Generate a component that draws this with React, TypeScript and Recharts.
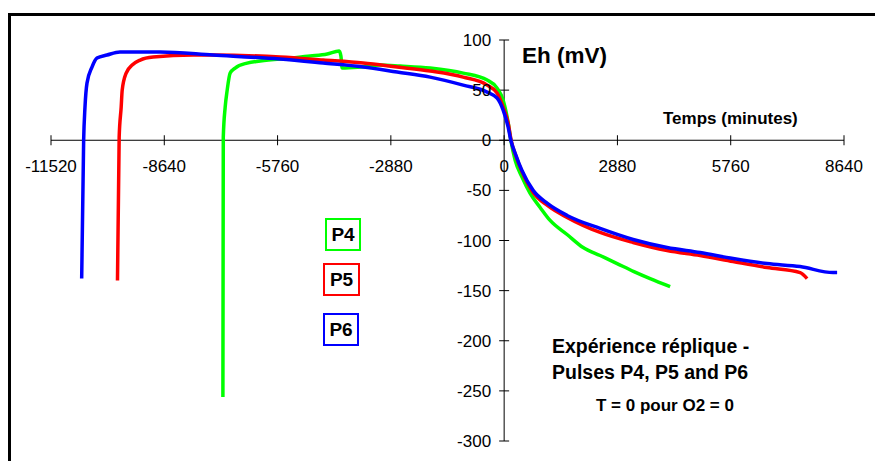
import React from 'react';
import { LineChart, Line, XAxis, YAxis, ReferenceLine, ReferenceDot } from 'recharts';

const FONT = '"Liberation Sans", Arial, Helvetica, sans-serif';

// axis ticks
const xTicks = [-11520, -8640, -5760, -2880, 0, 2880, 5760, 8640];
const yTicks = [100, 50, 0, -50, -100, -150, -200, -250, -300];

// P4 (green)
const p4Time = [-7150, -7140, -7092, -7041, -6965, -6838, -6533, -6202, -5440, -4931, -4499, -4194, -4150, -4118, -3660, -3152, -2644, -1881, -1042, -432, -178, -25, 100, 170, 280, 457, 661, 915, 1169, 1600, 2008, 2440, 2872, 3300, 3711, 4220];
const p4Eh = [-256, 3, 33, 50, 67, 72, 77, 79, 82, 84, 86, 89, 84, 72, 73, 75, 74, 72, 67, 60, 52, 40, 18, 0, -20, -37, -53, -67, -80, -94, -107, -115, -123, -131, -138, -146];

// P5 (red)
const p5Time = [-9830, -9787, -9736, -9710, -9609, -9456, -9253, -8923, -7906, -7397, -5694, -4601, -3584, -2720, -1881, -1042, -432, -178, -25, 102, 178, 300, 450, 737, 1100, 1601, 2440, 3279, 4143, 4982, 5821, 6685, 7524, 7702];
const p5Eh = [-140, 3, 33, 50, 67, 75, 80, 83, 85, 85, 83, 80, 77, 73, 69, 63, 55, 47, 33, 17, 0, -16, -31, -52, -65, -77, -92, -102, -110, -115, -121, -127, -132, -138];

// P6 (blue)
const p6Time = [-10740, -10690, -10656, -10605, -10478, -10351, -10096, -9766, -8749, -7402, -5700, -4601, -3584, -2720, -1881, -1042, -432, -178, -25, 102, 170, 300, 450, 737, 1100, 1601, 2440, 3279, 4143, 4982, 5821, 6685, 7524, 8363, 8465];
const p6Eh = [-138, 0, 33, 57, 73, 82, 85, 88, 88, 85, 81, 77, 73, 68, 63, 55, 48, 42, 30, 13, 0, -15, -30, -50, -63, -75, -88, -99, -107, -112, -118, -123, -126, -132, -132];

const toPoints = (times: number[], values: number[]) =>
  times.map((t, i) => ({ t, eh: values[i] }));

const series = [
  { name: 'P4', color: '#00FF00', data: toPoints(p4Time, p4Eh) },
  { name: 'P5', color: '#FF0000', data: toPoints(p5Time, p5Eh) },
  { name: 'P6', color: '#0000FF', data: toPoints(p6Time, p6Eh) },
];

const legendBoxes = [
  { left: 325, top: 218, width: 36 },
  { left: 323, top: 263, width: 37 },
  { left: 323, top: 313, width: 36 },
];

const xTickHalf = 5; // mV, ~5px
const yTickHalf = 127; // minutes, ~5px

const text = (extra: React.CSSProperties): React.CSSProperties => ({
  position: 'absolute',
  fontFamily: FONT,
  fontWeight: 'bold',
  color: '#000',
  lineHeight: 1,
  whiteSpace: 'nowrap',
  ...extra,
});

export default function App() {
  return (
    <div
      style={{
        position: 'absolute',
        left: 0,
        top: 0,
        width: 875,
        height: 461,
        overflow: 'hidden',
        background: '#fff',
        fontFamily: FONT,
      }}
    >
      <div
        style={{
          position: 'absolute',
          left: 8,
          top: 13,
          width: 900,
          height: 500,
          border: '3px solid #000',
        }}
      />
      <div style={{ position: 'absolute', left: 0, top: 0 }}>
        <LineChart
          width={875}
          height={461}
          margin={{ top: 40, right: 31, bottom: 20, left: 51 }}
          style={{ fontFamily: FONT }}
        >
          <XAxis type="number" dataKey="t" domain={[-11520, 8640]} hide allowDataOverflow />
          <YAxis type="number" dataKey="eh" domain={[-300, 100]} hide allowDataOverflow />
          <ReferenceLine y={0} stroke="#000" strokeWidth={1} />
          <ReferenceLine x={0} stroke="#000" strokeWidth={1} />
          {xTicks.map((t) => (
            <ReferenceLine
              key={`xt${t}`}
              segment={[{ x: t, y: -xTickHalf }, { x: t, y: xTickHalf }]}
              stroke="#000"
              strokeWidth={1}
            />
          ))}
          {yTicks.map((v) => (
            <ReferenceLine
              key={`yt${v}`}
              segment={[{ x: -yTickHalf, y: v }, { x: yTickHalf, y: v }]}
              stroke="#000"
              strokeWidth={1}
            />
          ))}
          {xTicks.map((t) => (
            <ReferenceDot
              key={`xl${t}`}
              x={t}
              y={0}
              r={0}
              fill="none"
              stroke="none"
              label={{ value: String(t), position: 'bottom', offset: 20, fontSize: 17, fill: '#000', fontFamily: FONT }}
            />
          ))}
          {yTicks.map((v) => (
            <ReferenceDot
              key={`yl${v}`}
              x={0}
              y={v}
              r={0}
              fill="none"
              stroke="none"
              label={{ value: String(v), position: 'left', offset: 13, fontSize: 17, fill: '#000', fontFamily: FONT }}
            />
          ))}
          {series.map((s) => (
            <Line
              key={s.name}
              data={s.data}
              dataKey="eh"
              type="monotoneX"
              stroke={s.color}
              strokeWidth={3.5}
              dot={false}
              isAnimationActive={false}
            />
          ))}
        </LineChart>
      </div>

      <div style={text({ left: 522, top: 45, fontSize: 22.5 })}>Eh (mV)</div>
      <div style={text({ left: 663, top: 110, fontSize: 17 })}>Temps (minutes)</div>
      <div style={text({ left: 552, top: 337, fontSize: 19.5 })}>Expérience réplique -</div>
      <div style={text({ left: 552, top: 363, fontSize: 19.5 })}>Pulses P4, P5 and P6</div>
      <div style={text({ left: 596, top: 397, fontSize: 17 })}>T = 0 pour O2 = 0</div>

      {series.map((s, i) => (
        <div
          key={`lg${s.name}`}
          style={{
            position: 'absolute',
            left: legendBoxes[i].left,
            top: legendBoxes[i].top,
            width: legendBoxes[i].width,
            height: 33,
            boxSizing: 'border-box',
            border: `2px solid ${s.color}`,
            display: 'flex',
            alignItems: 'center',
            justifyContent: 'center',
            fontFamily: FONT,
            fontWeight: 'bold',
            fontSize: 19,
            color: '#000',
          }}
        >
          {s.name}
        </div>
      ))}
    </div>
  );
}
